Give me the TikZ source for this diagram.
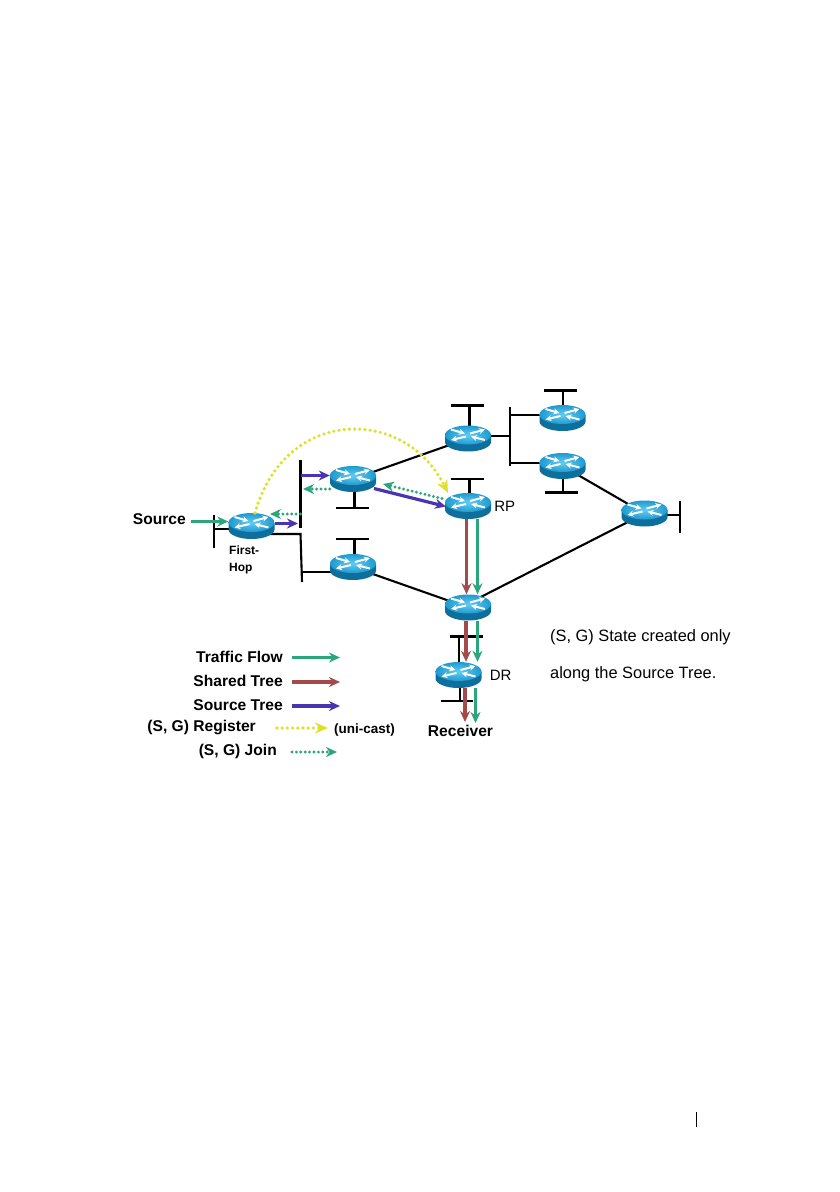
\documentclass[tikz,border=0pt]{standalone}
\usepackage{fontspec}
\setmainfont{Liberation Sans}
\usepackage{xcolor}
\usetikzlibrary{arrows.meta, positioning, backgrounds}

\definecolor{flowgreen}{HTML}{2BA67A}
\definecolor{sharedred}{HTML}{A34A4A}
\definecolor{sourceblue}{HTML}{4A35B0}
\definecolor{regyellow}{HTML}{E0E02A}
\definecolor{routerside}{HTML}{0F6F9C}
\definecolor{routertop}{HTML}{1F9AD0}
\definecolor{routerlight}{HTML}{62CDF2}

\begin{document}
\begin{tikzpicture}[
    x=1pt, y=-1pt,
    router/.style={rectangle, inner sep=0pt, minimum width=46pt, minimum height=26pt,
      path picture={
        \fill[routerside] (-23,-3.5) -- (-23,3.5) arc[start angle=180, end angle=360, x radius=23, y radius=-9.5]
          -- (23,-3.5) -- cycle;
        \shade[inner color=routerlight, outer color=routertop] (0,-3.5) ellipse[x radius=23, y radius=9.5];
        \draw[white, line width=2pt, -{Stealth[length=6pt,width=6pt]}] (-17,-9) -- (-3,-5);
        \draw[white, line width=2pt, -{Stealth[length=6pt,width=6pt]}] (17,1.5) -- (3,-2);
        \draw[white, line width=2pt, -{Stealth[length=6pt,width=6pt]}] (2,-5) -- (17,-9);
        \draw[white, line width=2pt, -{Stealth[length=6pt,width=6pt]}] (-2,-2) -- (-17,1.5);
      }},
    link/.style={line width=2.1pt, black},
    lbl/.style={inner sep=0pt, font=\fontsize{15.6}{17}\selectfont\bfseries},
    note/.style={inner sep=0pt, anchor=west, font=\fontsize{16.4}{18}\selectfont},
    flow/.style={line width=3.2pt, flowgreen, -{Stealth[length=11pt,width=10pt]}},
    shared/.style={line width=3.2pt, sharedred, -{Stealth[length=11pt,width=10pt]}},
    srctree/.style={line width=3.2pt, sourceblue, -{Stealth[length=11pt,width=10pt]}},
    joinflow/.style={line width=3.2pt, flowgreen, line cap=round, dash pattern=on 0pt off 4.4pt,
      -{Stealth[length=11pt,width=10pt]}},
    regflow/.style={line width=3.6pt, regyellow, line cap=round, dash pattern=on 0pt off 5.2pt,
      -{Stealth[length=13pt,width=11pt]}}
]
\useasboundingbox (0,0) rectangle (840,1192);

% routers
\node[router] (first) at (251.5,526) {};
\node[router] (upper) at (353,479) {};
\node[router] (lower) at (353,567) {};
\node[router] (top) at (468,438.5) {};
\node[router] (rp) at (468,506) {};
\node[router] (farone) at (562.5,418) {};
\node[router] (fartwo) at (562.5,466) {};
\node[router] (east) at (644.5,513.5) {};
\node[router] (mid) at (468,607.5) {};
\node[router] (dr) at (458.5,675) {};

% LAN bars
\coordinate (srcbar) at (214,529);
\coordinate (barA) at (300.5,460);
\coordinate (barB) at (300.5,528);
\coordinate (barC) at (300.5,534);
\coordinate (barD) at (302,582);
\coordinate (barE) at (510,407);
\coordinate (barF) at (510,466);
\coordinate (srcin) at (191,521.5);

\begin{scope}[on background layer]
\draw[link] (srcbar) -- ([yshift=-3pt]first.center);
\draw[link] (214,515) -- (214,548);
\draw[link] (barA) -- (barB);
\draw[link] (first.center) |- (barC) -- (barD);
\draw[link] (301.5,572) -- ([yshift=-5pt]lower.center);
\draw[link] ([xshift=1.5pt]upper.center) -- (354.5,508);
\draw[link] (336,508) -- (369,508);
\draw[link] ([xshift=1.5pt]lower.center) -- (354.5,539);
\draw[link] (336,539) -- (369,539);
\draw[link] (upper.center) -- (top.center);
\draw[link] (lower.center) -- (mid.center);
\draw[link] ([xshift=1.5pt]top.center) -- (469.5,405.5);
\draw[link] (451,405.5) -- (484,405.5);
\draw[link] ([xshift=1.5pt]rp.center) -- (469.5,479);
\draw[link] (451,479) -- (484,479);
\draw[link] ([yshift=2.5pt]top.center) -- (510,436);
\draw[link] (barE) -- (barF);
\draw[link] (510,415) -- ([yshift=3pt]farone.center);
\draw[link] (510,463) -- ([yshift=3pt]fartwo.center);
\draw[link] ([xshift=.5pt]farone.center) -- (563,390.5);
\draw[link] (544,390.5) -- (577,390.5);
\draw[link] ([xshift=.5pt]fartwo.center) -- (563,492.5);
\draw[link] (545,492.5) -- (578,492.5);
\draw[link] (fartwo.center) -- (east.center);
\draw[link] ([yshift=4pt]mid.center) -- (east.center);
\draw[link] ([yshift=-1.5pt]east.center) -- (680,515);
\draw[link] (680,501) -- (680,533);
\draw[link] ([xshift=.8pt]dr.center) -- (459.3,636.5);
\draw[link] (450,636.5) -- (482.5,636.5);
\draw[link] ([xshift=1.5pt]dr.center) -- (460,701);
\draw[link] (440.5,701) -- (473,701);
\end{scope}

% flows
\draw[flow] (srcin) -- (first.west |- srcin);
\draw[srctree] (first.east |- 0,523.5) -- (298,523.5);
\draw[joinflow] (barA |- 0,514) -- (270,514);
\draw[srctree] (barA |- 0,475.5) -- (upper.west |- 0,475.5);
\draw[joinflow] (upper.west |- 0,489) -- (303,489);
\draw[srctree] (374,488.5) -- (446,506.5);
\draw[joinflow] (442,498.5) -- (383,484);
\draw[regflow] (255,513) .. controls (285,406) and (405,406) .. (448,493);
\draw[shared] ([xshift=-1.5pt]rp.south) -- ([xshift=-1.5pt]mid.north);
\draw[flow] ([xshift=9.5pt]rp.south) -- ([xshift=9.5pt]mid.north);
\draw[shared] ([xshift=-2pt]mid.south) -- ([xshift=7.5pt]dr.north);
\draw[flow] ([xshift=9.5pt]mid.south) -- ([xshift=19pt]dr.north);
\draw[shared] ([xshift=6.5pt]dr.south) -- (465,722);
\draw[flow] ([xshift=17pt]dr.south) -- (475.5,723);

% labels
\node[lbl, anchor=east] (source) at (186,519.5) {Source};
\node[lbl, right=3pt of rp, font=\fontsize{15}{17}\selectfont] (rplabel) {RP};
\node[lbl, right=8pt of dr, font=\fontsize{15}{17}\selectfont] (drlabel) {DR};
\node[lbl] (receiver) at (460.5,731) {Receiver};
\node[lbl, anchor=north west, align=left, font=\fontsize{12}{17}\selectfont\bfseries] (hop) at (229,546) {First-\\Hop};
\node[note] (noteone) at (550,637) {(S, G) State created only};
\node[note] (notetwo) at (550,674) {along the Source Tree.};

% legend
\node[lbl, anchor=east] (legflow) at (283,656.5) {Traffic Flow};
\node[lbl, anchor=east] (legshared) at (283,681) {Shared Tree};
\node[lbl, anchor=east] (legsource) at (283,705) {Source Tree};
\node[lbl, anchor=east] (legreg) at (256,727) {(S, G) Register};
\node[lbl, anchor=east] (legjoin) at (277,751) {(S, G) Join};
\node[lbl, anchor=west, font=\fontsize{13.5}{15}\selectfont\bfseries] (unicast) at (334,730) {(uni-cast)};
\draw[flow] (292,657.5) -- (340,657.5);
\draw[shared] (292,682) -- (340,682);
\draw[srctree] (292,706) -- (340,706);
\draw[regflow] (277,728) -- (328,728);
\draw[joinflow] (292,752) -- (337,752);

% page tick
\draw[line width=1pt] (696.5,1112) -- (696.5,1127);
\end{tikzpicture}
\end{document}
